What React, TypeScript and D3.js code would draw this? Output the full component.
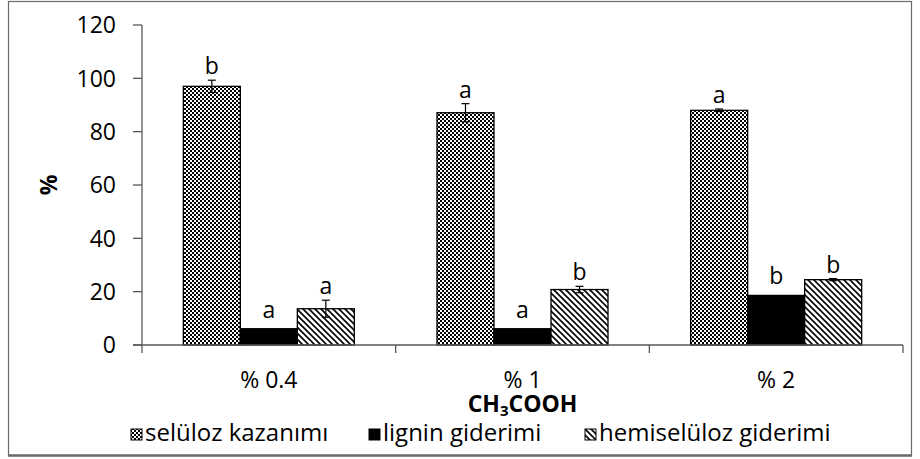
import React from "react";
import * as d3 from "d3";

// Acetic acid concentrations on the x axis
const categories = ["% 0.4", "% 1", "% 2"];
const seriesNames = ["selüloz kazanımı", "lignin giderimi", "hemiselüloz giderimi"];

// Mean values (%) and standard deviations for each series
const selulozValues = [97.0, 87.1, 88.0];
const selulozErrors = [2.3, 3.4, 0.5];
const ligninValues = [6.1, 6.1, 18.6];
const ligninErrors = [0, 0, 0];
const hemiValues = [13.6, 20.8, 24.5];
const hemiErrors = [3.2, 1.2, 0.4];

// Significance letters above each bar
const selulozLetters = ["b", "a", "a"];
const ligninLetters = ["a", "a", "b"];
const hemiLetters = ["a", "b", "b"];

const yTicks = [0, 20, 40, 60, 80, 100, 120];

const W = 920;
const H = 459;
const FONT = "'Open Sans', sans-serif";

const fills = ["url(#checker)", "#000", "url(#diag)"];

export default function App() {
  const left = 142;
  const right = 903;
  const top = 25;
  const bottom = 345;

  const y = d3.scaleLinear().domain([0, 120]).range([bottom, top]);
  const x0 = d3.scaleBand<string>().domain(categories).range([left, right]);
  const bw = x0.bandwidth();
  const barW = 57;
  const x1 = d3
    .scaleBand<string>()
    .domain(seriesNames)
    .range([0, bw])
    .paddingInner(0)
    .paddingOuter((bw - barW * 3) / 2 / barW);

  const values = [selulozValues, ligninValues, hemiValues];
  const errors = [selulozErrors, ligninErrors, hemiErrors];
  const letters = [selulozLetters, ligninLetters, hemiLetters];

  const bars: React.ReactNode[] = [];
  seriesNames.forEach((s, si) => {
    categories.forEach((c, ci) => {
      const v = values[si][ci];
      const e = errors[si][ci];
      const bx = (x0(c) ?? 0) + (x1(s) ?? 0);
      const bwid = x1.bandwidth();
      const cx = bx + bwid / 2;
      bars.push(
        <g key={`${s}-${c}`}>
          <rect
            x={bx}
            y={y(v)}
            width={bwid}
            height={y(0) - y(v)}
            fill={fills[si]}
            stroke="#000"
            strokeWidth={1.3}
          />
          {e > 0 && (
            <g stroke="#000" strokeWidth={1.2}>
              <line x1={cx} x2={cx} y1={y(v + e)} y2={y(v - e)} />
              <line x1={cx - 4} x2={cx + 4} y1={y(v + e)} y2={y(v + e)} />
              <line x1={cx - 4} x2={cx + 4} y1={y(v - e)} y2={y(v - e)} />
            </g>
          )}
          <text
            x={cx}
            y={y(v + e) - (e > 0 ? 6 : 11)}
            textAnchor="middle"
            fontSize={23}
            fontFamily={FONT}
            fill="#000"
          >
            {letters[si][ci]}
          </text>
        </g>
      );
    });
  });

  const legendX = [131, 369, 585];

  return (
    <svg width={W} height={H} style={{ position: "absolute", left: 0, top: 0 }}>
      <defs>
        <pattern id="checker" width={4} height={4} patternUnits="userSpaceOnUse">
          <rect width={4} height={4} fill="#fff" />
          <rect x={0} y={0} width={2} height={2} fill="#000" />
          <rect x={2} y={2} width={2} height={2} fill="#000" />
        </pattern>
        <pattern id="diag" width={6} height={6} patternUnits="userSpaceOnUse">
          <rect width={6} height={6} fill="#fff" />
          <path d="M0,0 L6,6 M-1,5 L1,7 M5,-1 L7,1" stroke="#000" strokeWidth={1.6} />
        </pattern>
      </defs>
      <rect x={0} y={0} width={W} height={H} fill="#fff" />
      <rect x={8.5} y={1.5} width={903} height={454} fill="none" stroke="#6b6b6b" strokeWidth={1.2} />
      <line x1={8} x2={912} y1={455.5} y2={455.5} stroke="#6b6b6b" strokeWidth={2.5} />

      {bars}

      {/* y axis */}
      <line x1={left} x2={left} y1={top} y2={bottom} stroke="#595959" strokeWidth={1.3} />
      {yTicks.map((t) => (
        <g key={t}>
          <line x1={left - 9} x2={left} y1={y(t)} y2={y(t)} stroke="#595959" strokeWidth={1.3} />
          <text
            x={116}
            y={y(t)}
            dy="0.36em"
            textAnchor="end"
            fontSize={23}
            fontFamily={FONT}
            fill="#000"
          >
            {t}
          </text>
        </g>
      ))}
      <text
        transform={`translate(57, ${y(60)}) rotate(-90)`}
        textAnchor="middle"
        fontSize={23}
        fontWeight="bold"
        fontFamily={FONT}
        fill="#000"
      >
        %
      </text>

      {/* x axis */}
      <line x1={left - 9} x2={right} y1={bottom} y2={bottom} stroke="#595959" strokeWidth={1.3} />
      {[...categories.map((c) => x0(c) ?? 0), right].map((bx, i) => (
        <line key={i} x1={bx} x2={bx} y1={bottom} y2={bottom + 8} stroke="#595959" strokeWidth={1.3} />
      ))}
      {categories.map((c) => (
        <text
          key={c}
          x={(x0(c) ?? 0) + bw / 2}
          y={388}
          textAnchor="middle"
          fontSize={23}
          fontFamily={FONT}
          fill="#000"
        >
          {c}
        </text>
      ))}
      <text
        x={(x0(categories[1]) ?? 0) + bw / 2}
        y={412}
        textAnchor="middle"
        fontSize={23}
        fontWeight="bold"
        fontFamily={FONT}
        fill="#000"
      >
        CH
        <tspan fontSize={15} dy={4}>3</tspan>
        <tspan dy={-4}>COOH</tspan>
      </text>

      {/* legend */}
      {seriesNames.map((s, i) => (
        <g key={s}>
          <rect
            x={legendX[i]}
            y={429}
            width={11}
            height={11}
            fill={fills[i]}
            stroke="#000"
            strokeWidth={1}
          />
          <text x={legendX[i] + 14} y={441} fontSize={24} fontFamily={FONT} fill="#000">
            {s}
          </text>
        </g>
      ))}
    </svg>
  );
}
